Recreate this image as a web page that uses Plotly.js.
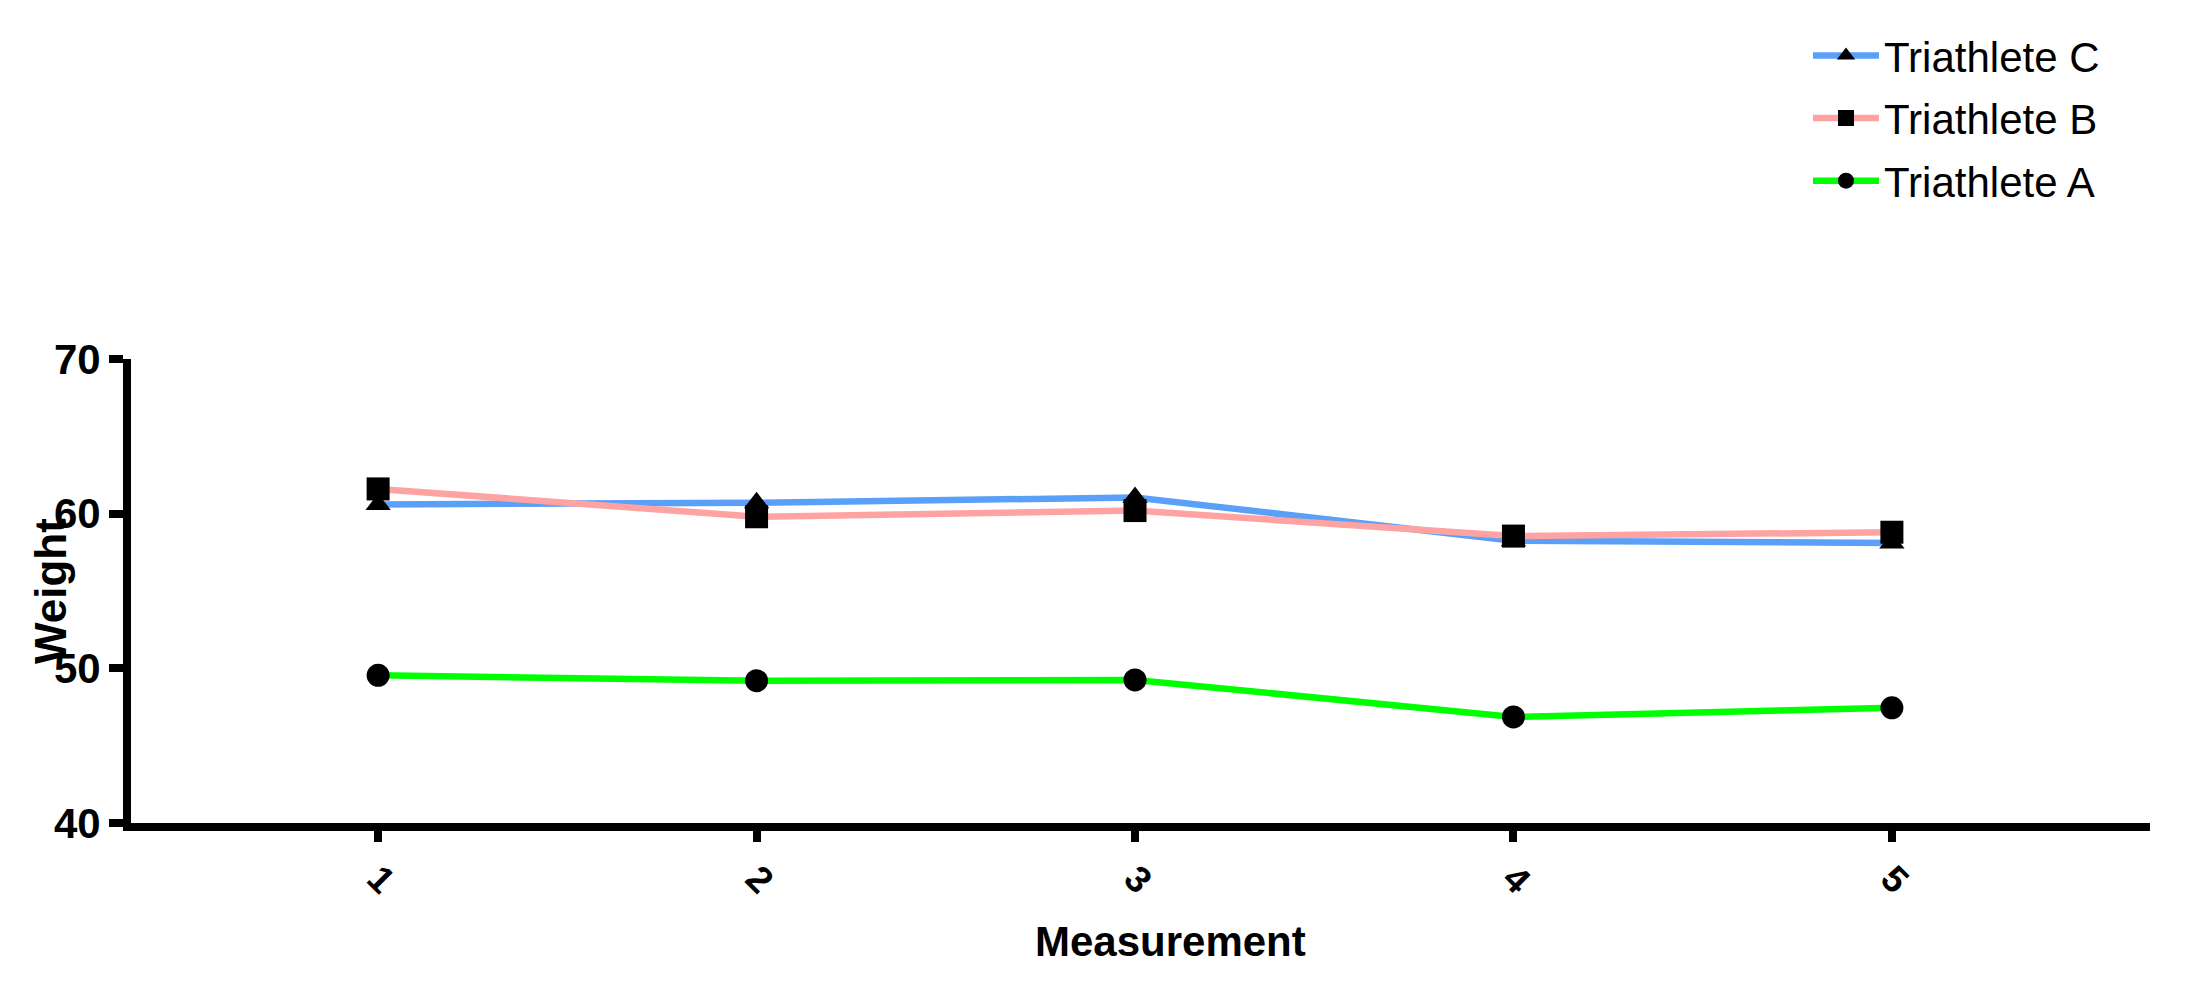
<!DOCTYPE html>
<html>
<head>
<meta charset="utf-8">
<script src="https://cdn.plot.ly/plotly-3.0.1.min.js"></script>
<style>html,body{margin:0;padding:0;background:#fff;}#chart{width:2196px;height:985px;}</style>
</head>
<body>
<div id="chart"></div>
<script>
var measurements = [1, 2, 3, 4, 5];
var xTickLabels = ['1', '2', '3', '4', '5'];
var seriesNames = ['Triathlete C', 'Triathlete B', 'Triathlete A'];
var weightC = [60.6, 60.7, 61.05, 58.25, 58.1];
var weightB = [61.6, 59.8, 60.2, 58.55, 58.8];
var weightA = [49.55, 49.2, 49.25, 46.86, 47.45];
var yTickValues = [40, 50, 60, 70];

var FONT = 'Liberation Sans, Arial, sans-serif';

function series(name, y, color, symbol, size, group) {
  return {
    type: 'scatter', mode: 'lines+markers', name: name,
    x: measurements, y: y, legendgroup: group,
    line: {color: color, width: 6.5},
    marker: {color: '#000000', symbol: symbol, size: size, line: {width: 0}}
  };
}

var data = [
  series(seriesNames[0], weightC, '#5aa0f8', 'triangle-up', 22, 'c'),
  series(seriesNames[1], weightB, '#ffa2a2', 'square', 23, 'b'),
  series(seriesNames[2], weightA, '#00ff00', 'circle', 23, 'a')
];

var layout = {
  width: 2196, height: 985,
  paper_bgcolor: '#ffffff', plot_bgcolor: '#ffffff',
  margin: {l: 131, r: 46, t: 359, b: 162, pad: 0},
  font: {family: FONT, color: '#000000'},
  showlegend: true,
  legend: {
    x: (1808 - 131) / 2019, y: 1.727, xanchor: 'left', yanchor: 'top',
    font: {family: FONT, size: 42, color: '#000000'},
    bgcolor: 'rgba(0,0,0,0)', borderwidth: 0,
    itemwidth: 66, tracegroupgap: 5, traceorder: 'grouped'
  },
  xaxis: {
    range: [0.347, 5.682],
    tickvals: measurements, ticktext: xTickLabels,
    tickangle: 45,
    tickfont: {family: FONT, size: 37, color: '#000000', weight: 'bold'},
    showline: true, linewidth: 8, linecolor: '#000000',
    ticks: 'outside', ticklen: 11, tickwidth: 8, tickcolor: '#000000',
    showgrid: false, zeroline: false
  },
  yaxis: {
    range: [40, 70],
    tickvals: yTickValues,
    tickfont: {family: FONT, size: 42, color: '#000000', weight: 'bold'},
    showline: true, linewidth: 8, linecolor: '#000000',
    ticks: 'outside', ticklen: 14, tickwidth: 8, tickcolor: '#000000',
    showgrid: false, zeroline: false
  },
  annotations: [{
    text: '<b>Weight</b>', textangle: -90,
    xref: 'paper', yref: 'paper', x: (50 - 131) / 2019, y: 0.5,
    xanchor: 'center', yanchor: 'middle', showarrow: false,
    font: {family: FONT, size: 44, color: '#000000'}
  }, {
    text: '<b>Measurement</b>',
    xref: 'paper', yref: 'paper', x: (1170 - 131) / 2019, y: (823 - 941) / 464,
    xanchor: 'center', yanchor: 'middle', showarrow: false,
    font: {family: FONT, size: 42, color: '#000000'}
  }]
};

Plotly.newPlot('chart', data, layout, {displayModeBar: false, staticPlot: true});
</script>
</body>
</html>
